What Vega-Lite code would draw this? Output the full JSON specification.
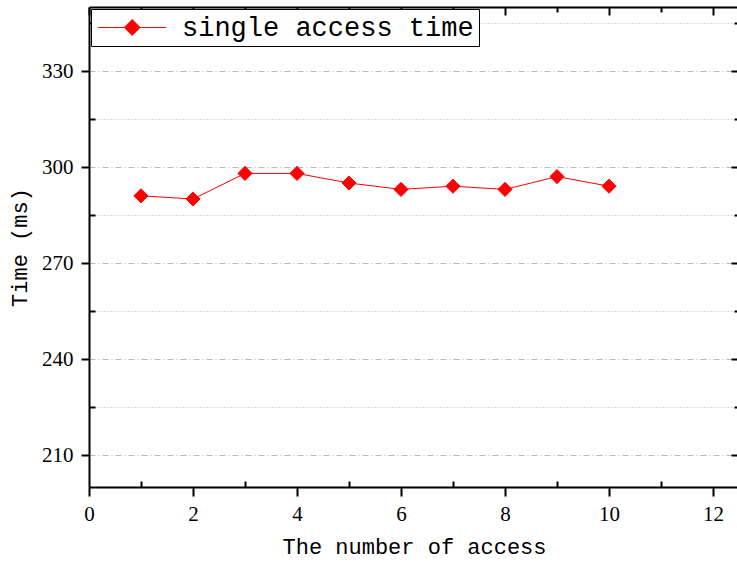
{
  "$schema": "https://vega.github.io/schema/vega-lite/v6.json",
  "width": 650,
  "height": 480,
  "autosize": "none",
  "padding": {"left": 89, "top": 7, "right": 0, "bottom": 76},
  "background": "white",
  "config": {
    "view": {"stroke": null},
    "font": "Liberation Mono",
    "axis": {"labelFont": "Liberation Serif", "titleFont": "Liberation Mono", "labelColor": "black", "titleColor": "black", "titleFontWeight": "normal", "labelFlush": false},
    "legend": {"labelFont": "Liberation Mono"}
  },
  "data": {
    "values": [
      {"n": 1, "time": 291, "series": "single access time"},
      {"n": 2, "time": 290, "series": "single access time"},
      {"n": 3, "time": 298, "series": "single access time"},
      {"n": 4, "time": 298, "series": "single access time"},
      {"n": 5, "time": 295, "series": "single access time"},
      {"n": 6, "time": 293, "series": "single access time"},
      {"n": 7, "time": 294, "series": "single access time"},
      {"n": 8, "time": 293, "series": "single access time"},
      {"n": 9, "time": 297, "series": "single access time"},
      {"n": 10, "time": 294, "series": "single access time"}
    ]
  },
  "layer": [
    {
      "mark": {"type": "point", "opacity": 0},
      "encoding": {
        "x": {"field": "n", "type": "quantitative", "scale": {"domain": [0, 12.5], "nice": false, "zero": false},
          "axis": {"orient": "bottom", "values": [1, 3, 5, 7, 9, 11], "labels": false, "domain": false, "grid": false, "tickSize": -6, "tickWidth": 2, "tickColor": "black", "title": null}},
        "y": {"field": "time", "type": "quantitative", "scale": {"domain": [200, 350], "nice": false, "zero": false},
          "axis": {"orient": "left", "values": [225, 255, 285, 315, 345], "labels": false, "domain": false, "grid": true, "gridDash": [1, 2], "gridColor": "#bbbbbb", "gridWidth": 1, "tickSize": -6, "tickWidth": 2, "tickColor": "black", "title": null}}
      }
    },
    {
      "mark": {"type": "point", "opacity": 0},
      "encoding": {
        "x": {"field": "n", "type": "quantitative", "scale": {"domain": [0, 12.5], "nice": false, "zero": false},
          "axis": {"orient": "top", "values": [0, 2, 4, 6, 8, 10, 12], "labels": false, "domain": true, "domainWidth": 2, "domainColor": "black", "grid": false, "tickSize": -8, "tickWidth": 2, "tickColor": "black", "title": null}},
        "y": {"field": "time", "type": "quantitative", "scale": {"domain": [200, 350], "nice": false, "zero": false},
          "axis": {"orient": "right", "values": [210, 240, 270, 300, 330], "labels": false, "domain": true, "domainWidth": 2, "domainColor": "black", "grid": false, "tickSize": -8, "tickWidth": 2, "tickColor": "black", "title": null}}
      }
    },
    {
      "mark": {"type": "point", "opacity": 0},
      "encoding": {
        "x": {"field": "n", "type": "quantitative", "scale": {"domain": [0, 12.5], "nice": false, "zero": false},
          "axis": {"orient": "top", "values": [1, 3, 5, 7, 9, 11], "labels": false, "domain": false, "grid": false, "tickSize": -5, "tickWidth": 2, "tickColor": "black", "title": null}},
        "y": {"field": "time", "type": "quantitative", "scale": {"domain": [200, 350], "nice": false, "zero": false},
          "axis": {"orient": "right", "values": [225, 255, 285, 315, 345], "labels": false, "domain": false, "grid": false, "tickSize": -5, "tickWidth": 2, "tickColor": "black", "title": null}}
      }
    },
    {
      "mark": {"type": "line", "color": "red", "strokeWidth": 1},
      "encoding": {
        "x": {"field": "n", "type": "quantitative", "scale": {"domain": [0, 12.5], "nice": false, "zero": false},
          "axis": {"orient": "bottom", "values": [0, 2, 4, 6, 8, 10, 12], "labelFontSize": 21, "labelPadding": 7, "domain": true, "domainWidth": 2, "domainColor": "black", "grid": false, "tickSize": 9, "tickWidth": 2, "tickColor": "black", "title": "The number of access", "titleFontSize": 22, "titlePadding": 12}},
        "y": {"field": "time", "type": "quantitative", "scale": {"domain": [200, 350], "nice": false, "zero": false},
          "axis": {"orient": "left", "values": [210, 240, 270, 300, 330], "labelFontSize": 21, "labelPadding": 8, "domain": true, "domainWidth": 2, "domainColor": "black", "grid": true, "gridDash": [6, 3, 1, 3], "gridColor": "#bbbbbb", "gridWidth": 1, "tickSize": 8, "tickWidth": 2, "tickColor": "black", "title": "Time (ms)", "titleFontSize": 22, "titlePadding": 10}}
      }
    },
    {
      "mark": {"type": "point", "shape": "diamond", "filled": true, "size": 200, "opacity": 1, "stroke": "red", "strokeWidth": 1},
      "encoding": {
        "x": {"field": "n", "type": "quantitative", "scale": {"domain": [0, 12.5], "nice": false, "zero": false}, "axis": null},
        "y": {"field": "time", "type": "quantitative", "scale": {"domain": [200, 350], "nice": false, "zero": false}, "axis": null},
        "color": {"field": "series", "type": "nominal", "scale": {"range": ["red"]},
          "legend": {"title": null, "orient": "top-left", "offset": 2, "padding": 5, "strokeColor": "black", "fillColor": "white", "labelFontSize": 27, "labelColor": "black", "labelOffset": 59, "symbolType": "M-1,0H5M2,-0.7L2.7,0L2,0.7L1.3,0Z", "symbolSize": 514, "symbolStrokeColor": "red", "symbolStrokeWidth": 1, "symbolFillColor": "red", "symbolOpacity": 1, "labelLimit": 0}}
      }
    }
  ],
  "resolve": {"axis": {"x": "independent", "y": "independent"}}
}
